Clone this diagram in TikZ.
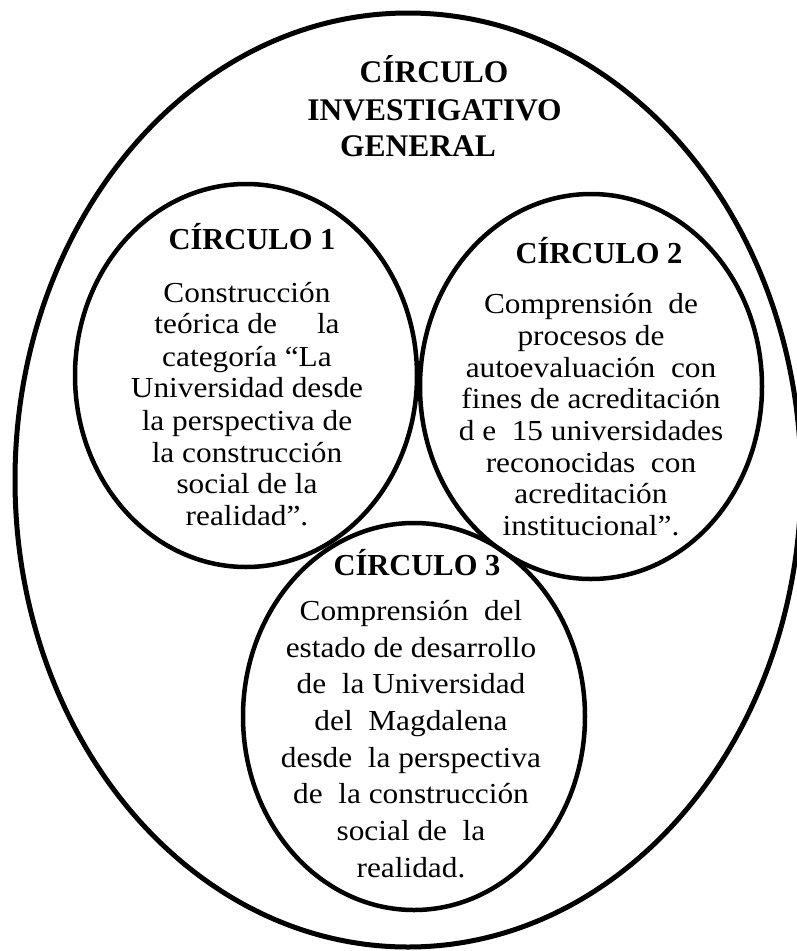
\documentclass[tikz,border=0pt]{standalone}
\usepackage{fontspec}
\setmainfont{Liberation Serif}
\newfontfamily\bodyfont{Liberation Serif}[FakeStretch=1.08]
\usetikzlibrary{shapes.geometric}
\begin{document}
\begin{tikzpicture}[x=1pt,y=-1pt,
  ring/.style={ellipse, draw, line width=4.5pt, inner sep=0pt},
  titletext/.style={anchor=base, inner sep=0pt, font=\fontsize{31.5}{36}\selectfont\bfseries},
  headtext/.style={anchor=base, inner sep=0pt, font=\fontsize{30.5}{33}\selectfont\bfseries},
  bodytext/.style={anchor=base, inner sep=0pt, font=\bodyfont\fontsize{29}{32}\selectfont}]
\useasboundingbox (0,0) rectangle (797,951);
\fill[white] (0,0) rectangle (797,951);

% ellipses
\node[ring, line width=5pt, minimum width=786pt, minimum height=934pt] (outer) at (408,480) {};
\node[ring, minimum width=342pt, minimum height=383pt] (c1) at (246,375.5) {};
\node[ring, minimum width=342pt, minimum height=385pt] (c2) at (591,386.5) {};
\node[ring, minimum width=342pt, minimum height=387pt] (c3) at (414,716.5) {};

% title
\node[titletext] (t1) at (434,82) {CÍRCULO};
\node[titletext] (t2) at (434.5,120) {INVESTIGATIVO};
\node[titletext] (t3) at (418,156) {GENERAL};

% headings
\node[headtext] (h1) at (252,249) {CÍRCULO 1};
\node[headtext] (h2) at (599,263) {CÍRCULO 2};
\node[headtext] (h3) at (417,575) {CÍRCULO 3};

% circle 1 text
\foreach \t/\y [count=\i] in {Construcción/302,
  {teórica de\hspace{40pt}la}/333,
  {categoría “La}/366,
  {Universidad desde}/397,
  {la perspectiva de}/430,
  {la construcción}/462,
  {social de la}/493,
  {realidad”.}/525}
  \node[bodytext] (ca\i) at (247,\y) {\t};

% circle 2 text
\foreach \t/\y [count=\i] in {{Comprensión\ \ de}/313,
  {procesos de}/345,
  {autoevaluación\ \ con}/377,
  {fines de acreditación}/408,
  {d e\ \ 15 universidades}/440,
  {reconocidas\ \ con}/472,
  {acreditación}/503,
  {institucional”.}/535}
  \node[bodytext] (cb\i) at (591,\y) {\t};

% circle 3 text
\foreach \t/\y [count=\i] in {{Comprensión\ \ del}/620,
  {estado de desarrollo}/657,
  {de\ \ la Universidad}/693,
  {del\ \ Magdalena}/730,
  {desde\ \ la perspectiva}/767,
  {de\ \ la construcción}/803,
  {social de\ \ la}/840,
  {realidad.}/877}
  \node[bodytext] (cc\i) at (411,\y) {\t};
\end{tikzpicture}
\end{document}
